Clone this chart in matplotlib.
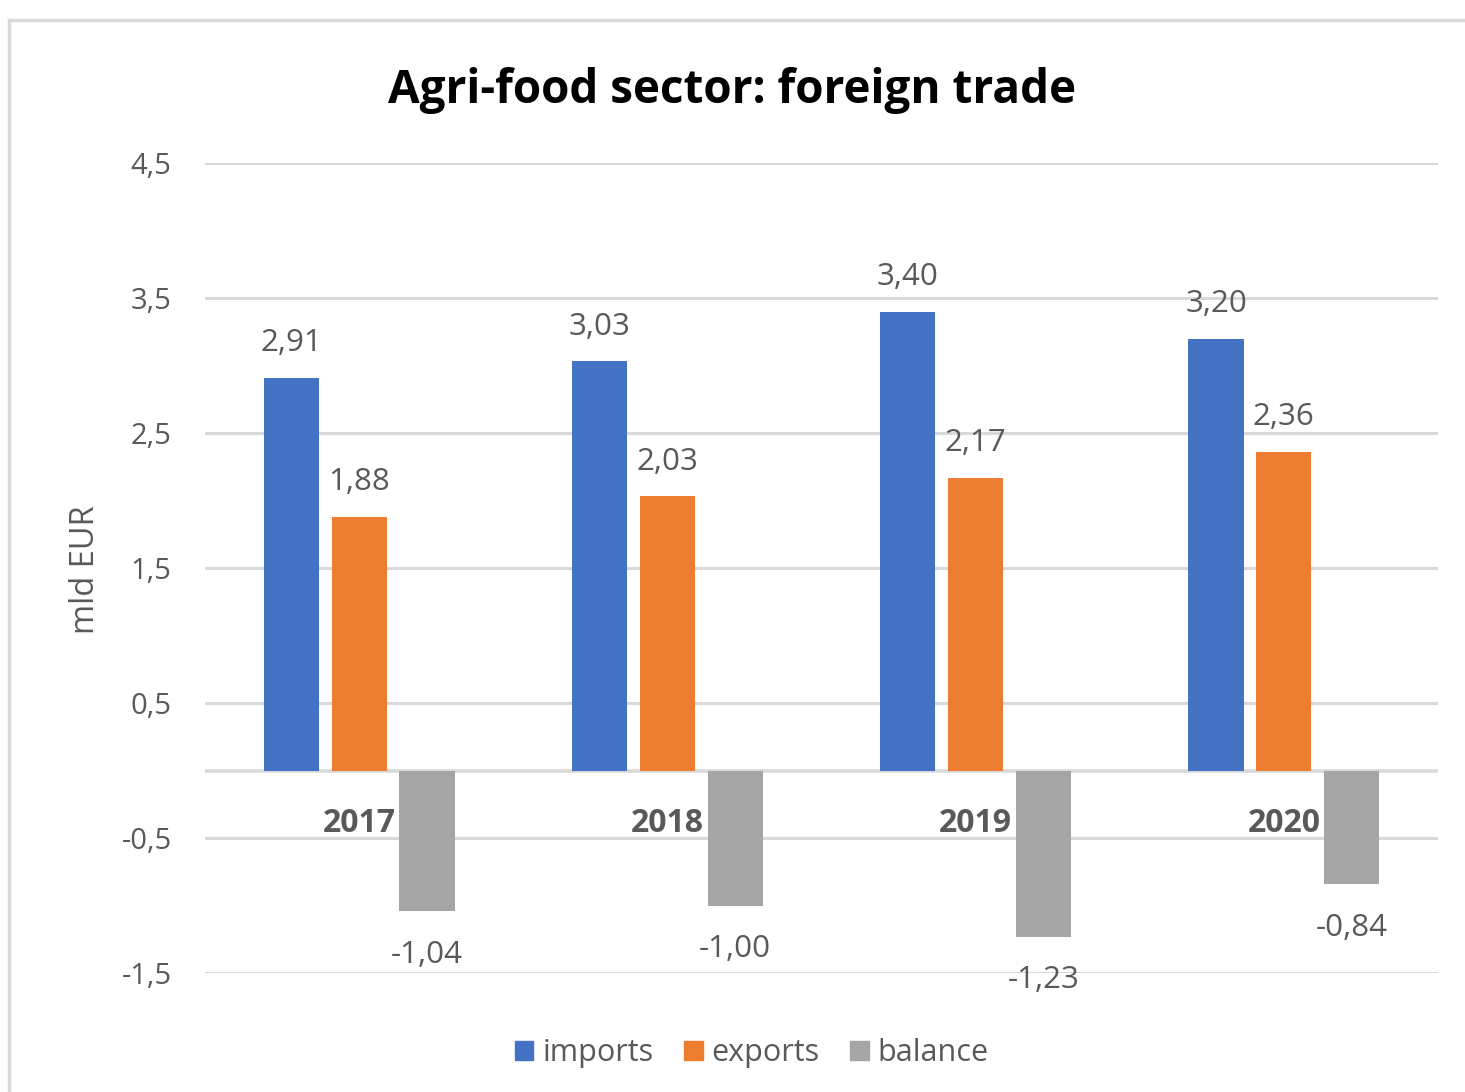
import matplotlib
matplotlib.use("Agg")
import matplotlib.pyplot as plt
from matplotlib.lines import Line2D
from matplotlib.patches import Rectangle
import numpy as np

years = ["2017", "2018", "2019", "2020"]
imports = [2.91, 3.03, 3.40, 3.20]
exports = [1.88, 2.03, 2.17, 2.36]
balance = [-1.04, -1.00, -1.23, -0.84]
series_names = ["imports", "exports", "balance"]
yticks = [-1.5, -0.5, 0.5, 1.5, 2.5, 3.5, 4.5]

colors = ["#4472C4", "#ED7D31", "#A5A5A5"]
txt = "#595959"
grid = "#D9D9D9"
plt.rcParams['font.family'] = ['Open Sans', 'DejaVu Sans']

W, H = 1465, 1092
fig = plt.figure(figsize=(W/100, H/100), dpi=100)
ax = fig.add_axes([205/W, 1-973/H, (1438-205)/W, (973-163)/H])

# outer border (cropped chart frame)
fig.add_artist(Line2D([9/W, 1.0], [1-20/H, 1-20/H], color=grid, lw=2.4, transform=fig.transFigure))
fig.add_artist(Line2D([9/W, 9/W], [0, 1-20/H], color=grid, lw=2.4, transform=fig.transFigure))

x = np.arange(len(years))
bw = 0.179
offs = [-0.22, 0.0, 0.22]
data = [imports, exports, balance]
for s, (vals, off, c, name) in enumerate(zip(data, offs, colors, series_names)):
    ax.bar(x + off, vals, width=bw, color=c, label=name, zorder=3)
    for xi, v in zip(x + off, vals):
        lab = f"{v:.2f}".replace(".", ",")
        if v >= 0:
            ax.annotate(lab, (xi, v), xytext=(0, 25), textcoords="offset points",
                        ha="center", va="center", fontsize=22.5, color=txt)
        else:
            ax.annotate(lab, (xi, v), xytext=(0, -31.5), textcoords="offset points",
                        ha="center", va="center", fontsize=22.5, color=txt)

for yr, xi in zip(years, x):
    ax.annotate(yr, (xi, 0), xytext=(0, -38.5), textcoords="offset points",
                ha="center", va="center", fontsize=23, color=txt, fontweight="bold", zorder=5)

ax.set_xlim(-0.5, 3.5)
ax.set_ylim(-1.5, 4.5)
ax.set_yticks(yticks)
ax.set_yticklabels([f"{t:.1f}".replace(".", ",") for t in yticks])
ax.tick_params(axis="y", length=0, pad=24, labelsize=21, labelcolor=txt)
ax.set_xticks([])
for sp in ax.spines.values():
    sp.set_visible(False)
ax.yaxis.grid(True, color=grid, lw=2.2, zorder=0)
ax.axhline(0, color=grid, lw=2.6, zorder=2)
ax.set_axisbelow(True)

fig.text(85/W, 1-570/H, "mld EUR", rotation=90, ha="center", va="center", fontsize=23.5, color=txt)
fig.text(732/W, 1-90/H, "Agri-food sector: foreign trade", ha="center", va="center",
         fontsize=33, fontweight="bold", color="black")

handles = [Rectangle((0, 0), 1, 1, color=c) for c in colors]
fig.legend(handles, series_names, loc="center", bbox_to_anchor=(752/W, 1-1053/H), ncol=3,
           frameon=False, fontsize=22, labelcolor=txt, handlelength=0.6, handleheight=0.6,
           handletextpad=0.3, columnspacing=1.0)

fig.savefig("out.png", dpi=100, facecolor="white")
